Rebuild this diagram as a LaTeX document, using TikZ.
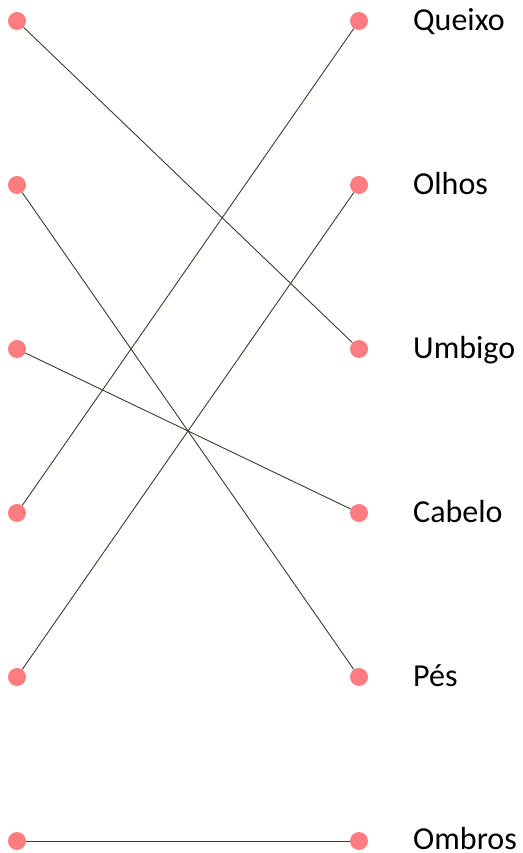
\documentclass[tikz,border=0pt]{standalone}
\usepackage{fontspec}
\setmainfont{Carlito}
\definecolor{dotc}{RGB}{255,124,128}
\definecolor{linec}{RGB}{60,60,45}
\begin{document}
\begin{tikzpicture}[x=1pt,y=1pt,
  dotn/.style={circle,fill=dotc,inner sep=0pt,minimum size=18pt},
  lbl/.style={anchor=base west,inner sep=0pt,font=\fontsize{32}{38}\selectfont},
  conn/.style={draw=linec,line width=0.9pt}]
\useasboundingbox (0,0) rectangle (522,853);
\foreach \i/\y in {1/21,2/185,3/349,4/513,5/677,6/841}{
  \node[dotn] (L\i) at (17,853-\y) {};
  \node[dotn] (R\i) at (359,853-\y) {};
}
\node[lbl] (t1) at (413,853-30.5) {Queixo};
\node[lbl] (t2) at (413,853-194.5) {Olhos};
\node[lbl] (t3) at (413,853-358.5) {Umbigo};
\node[lbl] (t4) at (413,853-522.5) {Cabelo};
\node[lbl] (t5) at (413,853-686.5) {Pés};
\node[lbl] (t6) at (413,853-849) {Ombros};
\draw[conn] (L1) -- (R3);
\draw[conn] (L2) -- (R5);
\draw[conn] (L3) -- (R4);
\draw[conn] (L4) -- (R1);
\draw[conn] (L5) -- (R2);
\draw[conn] (L6) -- (R6);
\end{tikzpicture}
\end{document}
